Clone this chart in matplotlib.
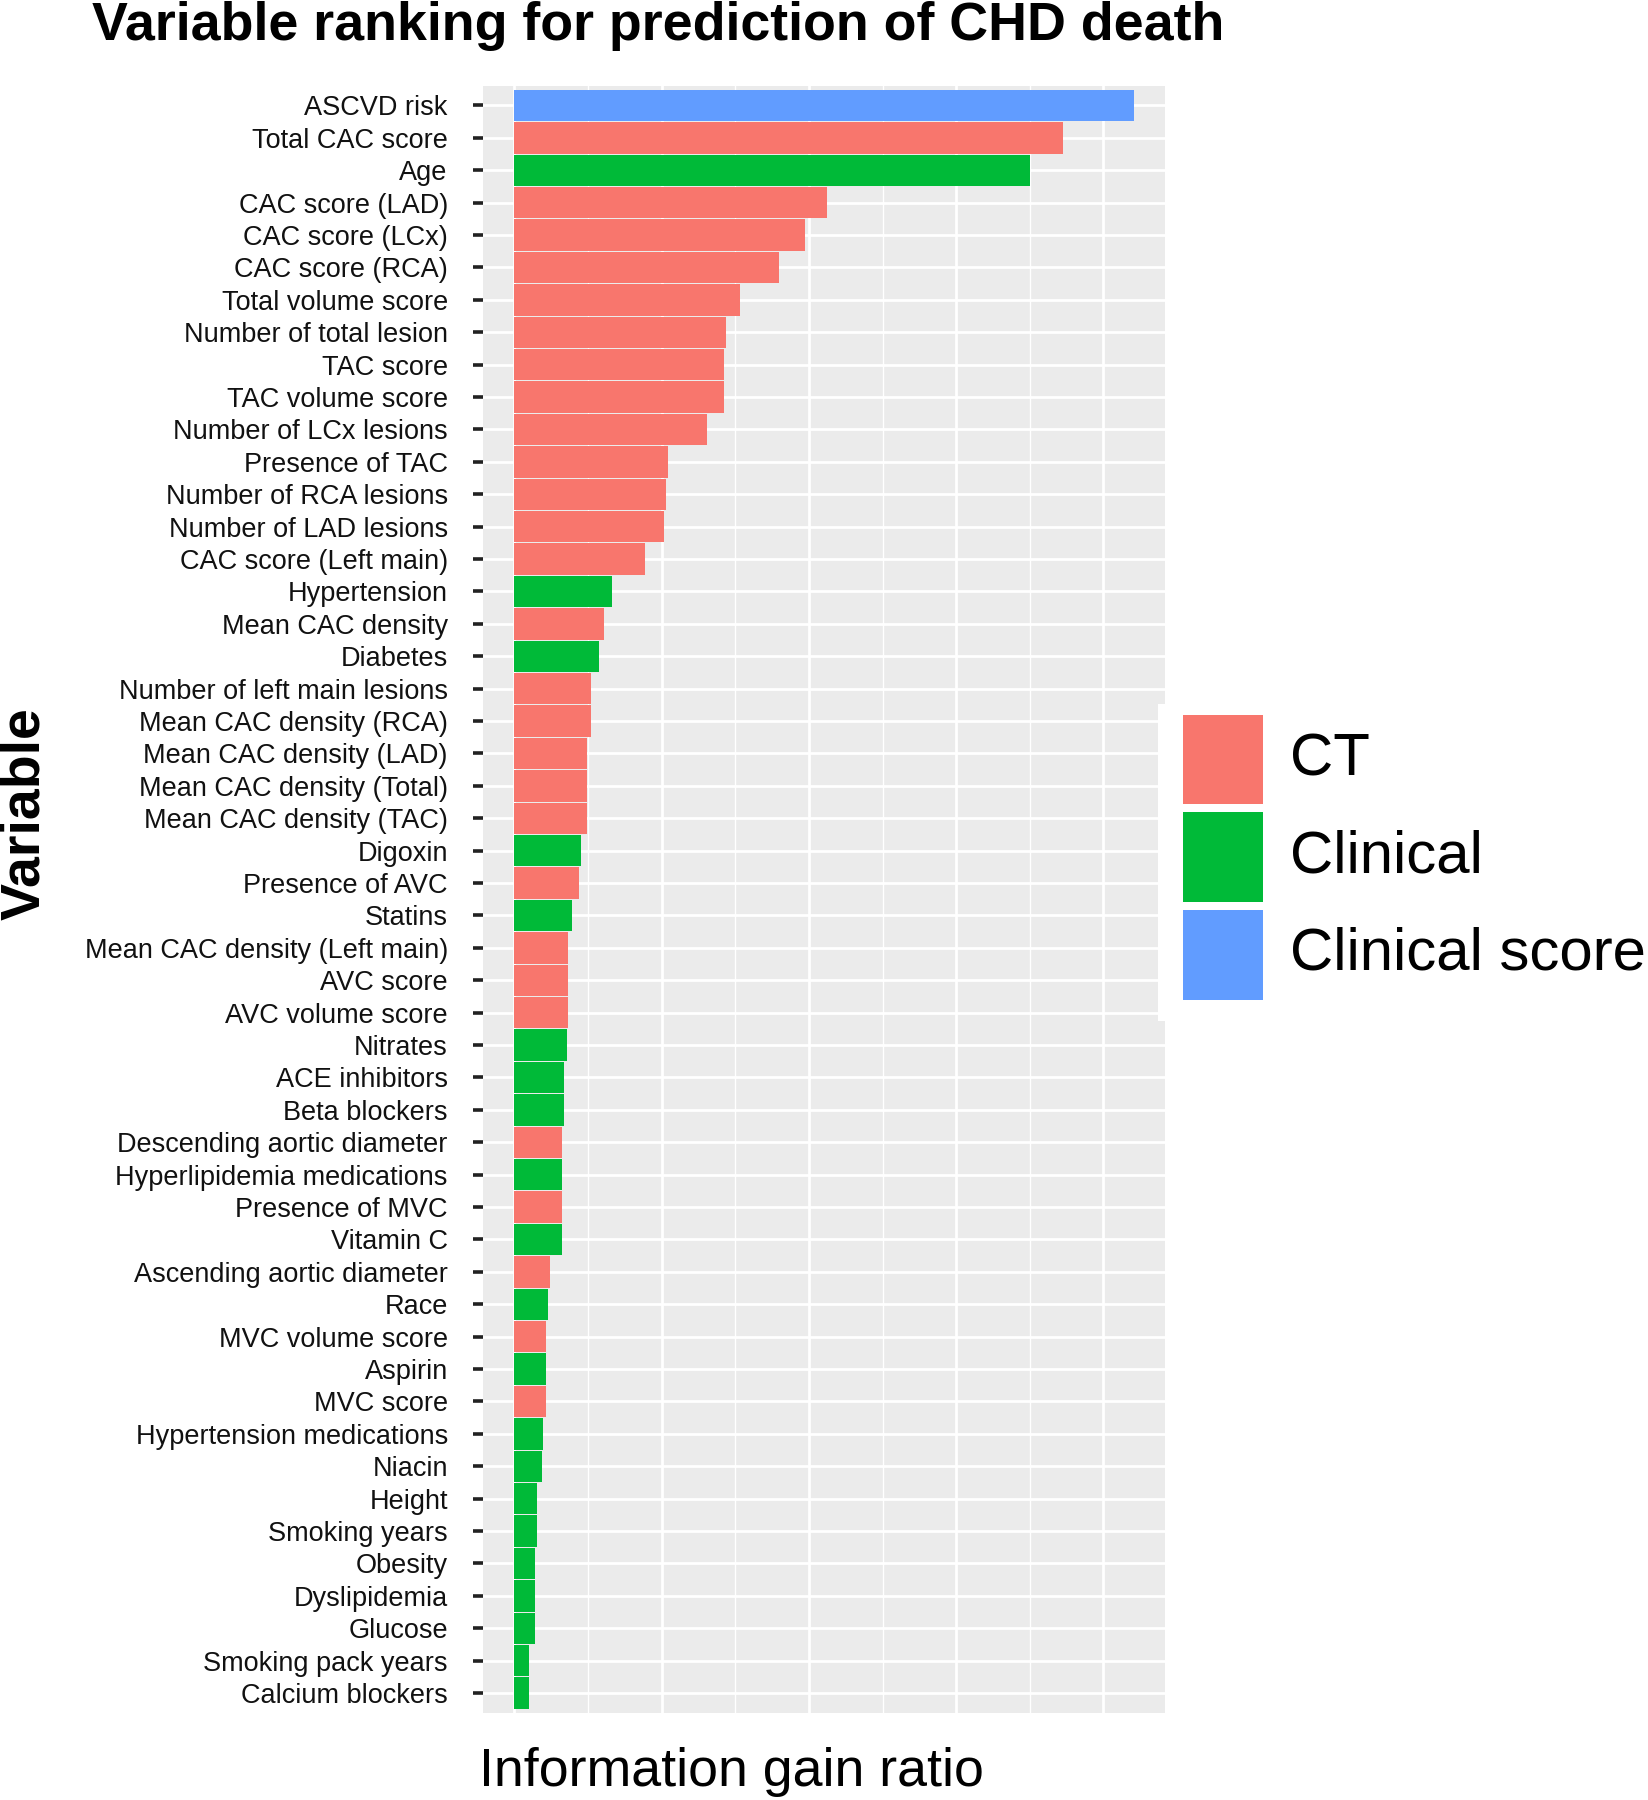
"""Variable ranking (information gain ratio) for prediction of CHD death."""

import matplotlib

matplotlib.use("Agg")
import matplotlib.pyplot as plt
from matplotlib.patches import Rectangle

plt.rcParams["font.family"] = ["Liberation Sans", "DejaVu Sans"]

# data, top to bottom (one grid step = 0.01)
variables = [
    "ASCVD risk", "Total CAC score", "Age", "CAC score (LAD)", "CAC score (LCx)",
    "CAC score (RCA)", "Total volume score", "Number of total lesion", "TAC score",
    "TAC volume score", "Number of LCx lesions", "Presence of TAC",
    "Number of RCA lesions", "Number of LAD lesions", "CAC score (Left main)",
    "Hypertension", "Mean CAC density", "Diabetes", "Number of left main lesions",
    "Mean CAC density (RCA)", "Mean CAC density (LAD)", "Mean CAC density (Total)",
    "Mean CAC density (TAC)", "Digoxin", "Presence of AVC", "Statins",
    "Mean CAC density (Left main)", "AVC score", "AVC volume score", "Nitrates",
    "ACE inhibitors", "Beta blockers", "Descending aortic diameter",
    "Hyperlipidemia medications", "Presence of MVC", "Vitamin C",
    "Ascending aortic diameter", "Race", "MVC volume score", "Aspirin", "MVC score",
    "Hypertension medications", "Niacin", "Height", "Smoking years", "Obesity",
    "Dyslipidemia", "Glucose", "Smoking pack years", "Calcium blockers",
]
gain_ratio = [
    0.0841, 0.0745, 0.0701, 0.0425, 0.0395, 0.0360, 0.0307, 0.0288, 0.0285, 0.0284,
    0.0262, 0.0209, 0.0206, 0.0203, 0.0177, 0.0132, 0.0121, 0.0115, 0.0104, 0.0104,
    0.0099, 0.0099, 0.0099, 0.0090, 0.0088, 0.0078, 0.0073, 0.0073, 0.0073, 0.0071,
    0.0067, 0.0067, 0.0065, 0.0065, 0.0065, 0.0065, 0.0048, 0.0045, 0.0043, 0.0043,
    0.0043, 0.0039, 0.0037, 0.0031, 0.0031, 0.0028, 0.0028, 0.0028, 0.0020, 0.0020,
]
group = [
    "Clinical score", "CT", "Clinical", "CT", "CT", "CT", "CT", "CT", "CT", "CT",
    "CT", "CT", "CT", "CT", "CT", "Clinical", "CT", "Clinical", "CT", "CT",
    "CT", "CT", "CT", "Clinical", "CT", "Clinical", "CT", "CT", "CT", "Clinical",
    "Clinical", "Clinical", "CT", "Clinical", "CT", "Clinical", "CT", "Clinical", "CT", "Clinical",
    "CT", "Clinical", "Clinical", "Clinical", "Clinical", "Clinical", "Clinical", "Clinical", "Clinical", "Clinical",
]
groups = ["CT", "Clinical", "Clinical score"]
group_colors = {"CT": "#F8766D", "Clinical": "#00BA38", "Clinical score": "#619CFF"}

W, H = 1649, 1800
fig = plt.figure(figsize=(W / 100, H / 100), dpi=100)


def fx(px):
    return px / W


def fy(py):
    return 1 - py / H


ax = fig.add_axes([fx(483.5), fy(1712.5), fx(1164.5) - fx(483.5), fy(86) - fy(1712.5)])
ax.set_facecolor("#EBEBEB")

pos = list(range(len(variables)))
ax.barh(pos, gain_ratio, height=0.97, color=[group_colors[g] for g in group],
        linewidth=0, zorder=2)

vmax = max(gain_ratio)
ax.set_xlim(-0.05 * vmax, 1.05 * vmax)
ax.set_ylim(len(variables) - 0.4, -0.6)

ax.set_xticks([0.0, 0.02, 0.04, 0.06, 0.08])
ax.set_xticks([0.01, 0.03, 0.05, 0.07], minor=True)
ax.set_yticks(pos)
ax.set_yticklabels(variables)
ax.grid(axis="x", which="major", color="white", linewidth=2.0, zorder=0)
ax.grid(axis="x", which="minor", color="white", linewidth=1.0, zorder=0)
ax.grid(axis="y", which="major", color="white", linewidth=2.0, zorder=0)
ax.set_axisbelow(True)
ax.tick_params(axis="x", which="both", length=0, labelbottom=False)
ax.tick_params(axis="y", length=7.2, width=2.6, color="#222222", pad=18.5,
               labelsize=19.5, labelcolor="#111111")
for s in ax.spines.values():
    s.set_visible(False)

fig.text(fx(658), fy(40), "Variable ranking for prediction of CHD death",
         ha="center", va="baseline", fontsize=38.7, fontweight="bold")
fig.text(fx(25), fy(814), "Variable", rotation=90, ha="center", va="center",
         fontsize=40, fontweight="bold")
fig.text(fx(731.6), fy(1786), "Information gain ratio", ha="center", va="baseline",
         fontsize=38.7)

# legend box
fig.add_artist(Rectangle((fx(1157.7), fy(1021)), 1 - fx(1157.7), fy(704) - fy(1021),
                         transform=fig.transFigure, facecolor="white", edgecolor="none",
                         zorder=3))
for i, g in enumerate(groups):
    top = 714.5 + i * 97.5
    fig.add_artist(Rectangle((fx(1183.5), fy(top + 90)), fx(1263.5) - fx(1183.5),
                             fy(top) - fy(top + 90), transform=fig.transFigure,
                             facecolor=group_colors[g], edgecolor="none", zorder=4))
    fig.text(fx(1290), fy(top + 45), g, ha="left", va="center", fontsize=43.2, zorder=5)

fig.savefig("out.png", dpi=100)
